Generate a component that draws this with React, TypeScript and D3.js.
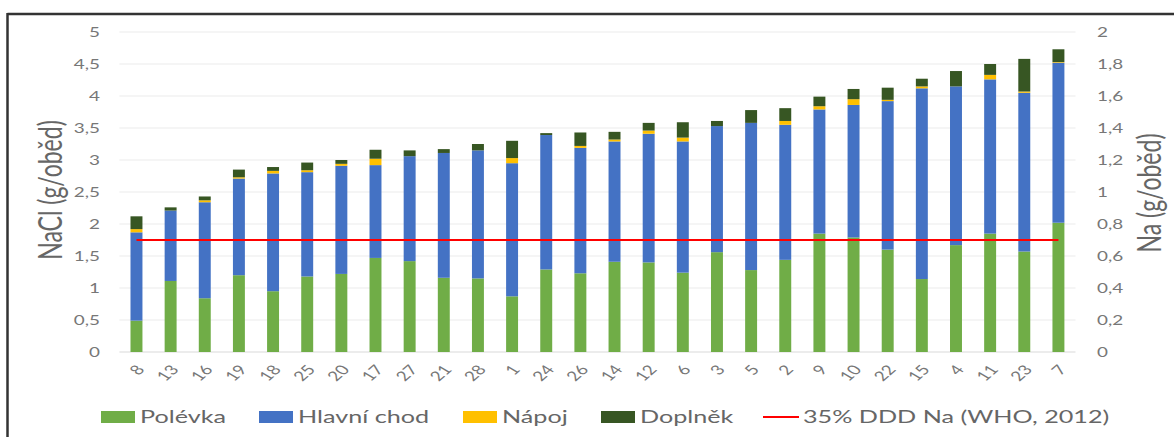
import React from 'react';
import * as d3 from 'd3';

// chart values (g NaCl per lunch)
const categories = ['8', '13', '16', '19', '18', '25', '20', '17', '27', '21', '28', '1', '24', '26', '14', '12', '6', '3', '5', '2', '9', '10', '22', '15', '4', '11', '23', '7'];
const polevka = [0.49, 1.11, 0.84, 1.2, 0.95, 1.18, 1.22, 1.47, 1.42, 1.16, 1.15, 0.87, 1.29, 1.23, 1.41, 1.4, 1.24, 1.56, 1.28, 1.44, 1.85, 1.79, 1.6, 1.14, 1.67, 1.85, 1.57, 2.02];
const hlavniChod = [1.38, 1.1, 1.5, 1.51, 1.84, 1.63, 1.69, 1.45, 1.64, 1.95, 2.0, 2.08, 2.1, 1.96, 1.88, 2.01, 2.05, 1.97, 2.3, 2.11, 1.94, 2.07, 2.32, 2.98, 2.48, 2.41, 2.48, 2.5];
const napoj = [0.05, 0, 0.03, 0.02, 0.04, 0.03, 0.03, 0.1, 0, 0, 0, 0.08, 0, 0.03, 0.03, 0.05, 0.06, 0, 0, 0.06, 0.05, 0.09, 0.02, 0.03, 0, 0.07, 0.02, 0.01];
const doplnek = [0.2, 0.05, 0.06, 0.12, 0.06, 0.12, 0.06, 0.14, 0.09, 0.06, 0.1, 0.27, 0.03, 0.21, 0.12, 0.12, 0.24, 0.08, 0.2, 0.2, 0.15, 0.16, 0.19, 0.12, 0.24, 0.17, 0.51, 0.2];
const limitNaCl = 1.75; // 35 % DDD Na (WHO, 2012) expressed as NaCl

const leftTicks = [0, 0.5, 1, 1.5, 2, 2.5, 3, 3.5, 4, 4.5, 5];
const rightTicks = [0, 0.2, 0.4, 0.6, 0.8, 1, 1.2, 1.4, 1.6, 1.8, 2];

const seriesKeys = ['polevka', 'hlavni', 'napoj', 'doplnek'];
const seriesNames = ['Polévka', 'Hlavní chod', 'Nápoj', 'Doplněk'];
const seriesColors = ['#70AD47', '#4472C4', '#FFC000', '#375623'];

// the reference is stretched horizontally, so draw narrow and stretch the svg
const SX = 1.4;
const WIDTH = 1174;
const HEIGHT = 437;
const px = (v: number) => v / SX;

const FONT = "Lato, 'Open Sans', sans-serif";
const TEXT = '#777777';

const fmt = d3.formatLocale({ decimal: ',', thousands: ' ', grouping: [3], currency: ['', ''] }).format('.1~f');

export default function App() {
  const rows = categories.map((c, i) => ({
    cat: c,
    polevka: polevka[i],
    hlavni: hlavniChod[i],
    napoj: napoj[i],
    doplnek: doplnek[i],
  }));
  const stacked = d3.stack<any>().keys(seriesKeys)(rows);

  const x = d3.scaleBand<string>()
    .domain(categories)
    .range([px(119.4), px(1075.5)])
    .paddingInner(0.65)
    .paddingOuter(0.325);

  const y = d3.scaleLinear().domain([0, 5]).range([352, 32]);
  const yNa = d3.scaleLinear().domain([0, 2]).range([352, 32]);

  const plotLeft = px(119.4);
  const plotRight = px(1075.5);
  const cx = (c: string) => (x(c) as number) + x.bandwidth() / 2;

  const legendItems = [
    { sw: 101, tx: 140 },
    { sw: 259, tx: 298 },
    { sw: 463, tx: 502 },
    { sw: 601, tx: 640 },
  ];

  return (
    <svg
      width={WIDTH}
      height={HEIGHT}
      viewBox={`0 0 ${WIDTH / SX} ${HEIGHT}`}
      preserveAspectRatio="none"
      style={{ position: 'absolute', left: 0, top: 0, background: '#fff' }}
      fontFamily={FONT}
    >
      {/* frame of the figure */}
      <line x1={px(7.5)} x2={px(1174)} y1={14} y2={14} stroke="#333" strokeWidth={2.5} />
      <line x1={px(7.5)} x2={px(7.5)} y1={13} y2={437} stroke="#333" strokeWidth={px(2.5)} />

      {/* gridlines */}
      {leftTicks.map((t) => (
        <line key={t} x1={plotLeft} x2={plotRight} y1={y(t)} y2={y(t)} stroke={t === 0 ? '#D9D9D9' : '#EBEBEB'} strokeWidth={1} />
      ))}

      {/* left axis */}
      {leftTicks.map((t) => (
        <text key={t} x={px(100)} y={y(t)} dy="0.35em" textAnchor="end" fontSize={13.5} fill={TEXT}>{fmt(t)}</text>
      ))}
      {/* right axis */}
      {rightTicks.map((t) => (
        <text key={t} x={px(1097)} y={yNa(t)} dy="0.35em" textAnchor="start" fontSize={13.5} fill={TEXT}>{fmt(t)}</text>
      ))}

      <text transform={`translate(${px(51)},190) rotate(-90)`} textAnchor="middle" dy="0.35em" fontSize={23} fill="#666">NaCl (g/oběd)</text>
      <text transform={`translate(${px(1150)},193) rotate(-90)`} textAnchor="middle" dy="0.35em" fontSize={23} fill="#666">Na (g/oběd)</text>

      {/* stacked bars */}
      {stacked.map((s, si) => (
        <g key={s.key} fill={seriesColors[si]}>
          {s.map((d: any) => (
            <rect
              key={d.data.cat}
              x={x(d.data.cat)}
              y={y(d[1])}
              width={x.bandwidth()}
              height={Math.max(0, y(d[0]) - y(d[1]))}
            />
          ))}
        </g>
      ))}

      {/* limit line */}
      <line
        x1={cx(categories[0])}
        x2={cx(categories[categories.length - 1])}
        y1={y(limitNaCl)}
        y2={y(limitNaCl)}
        stroke="#FF0000"
        strokeWidth={2.2}
      />

      {/* category labels */}
      {categories.map((c) => (
        <text
          key={c}
          transform={`translate(${cx(c) + px(4)},367) rotate(-50)`}
          textAnchor="end"
          dy="0.35em"
          fontSize={13.5}
          fill={TEXT}
        >
          {c}
        </text>
      ))}

      {/* legend */}
      {legendItems.map((l, i) => (
        <g key={seriesNames[i]}>
          <rect x={px(l.sw)} y={411} width={px(34)} height={12} fill={seriesColors[i]} />
          <text x={px(l.tx)} y={423.5} fontSize={18} fill="#666">{seriesNames[i]}</text>
        </g>
      ))}
      <line x1={px(763)} x2={px(799)} y1={417} y2={417} stroke="#FF0000" strokeWidth={2.2} />
      <text x={px(803)} y={423.5} fontSize={18} fill="#666">35% DDD Na (WHO, 2012)</text>
    </svg>
  );
}
